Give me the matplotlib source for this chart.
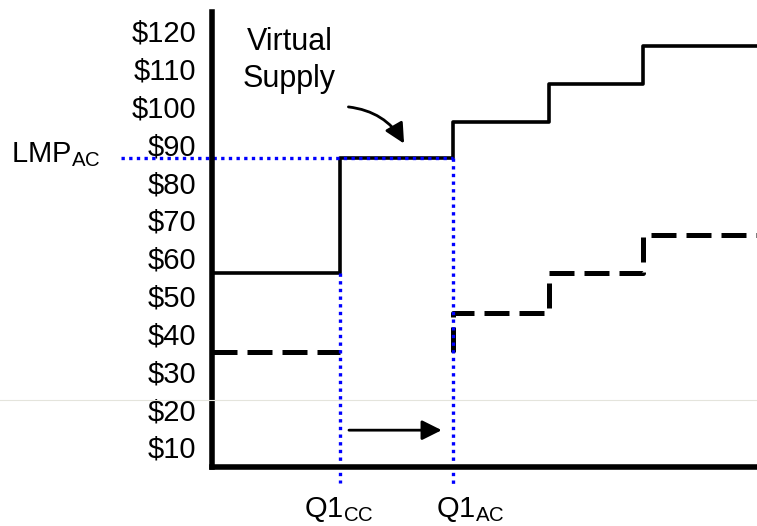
import matplotlib
matplotlib.use("Agg")
import matplotlib.pyplot as plt
from matplotlib.lines import Line2D

plt.rcParams['font.family'] = ['Liberation Sans', 'DejaVu Sans']
plt.rcParams['mathtext.fontset'] = 'custom'
plt.rcParams['mathtext.rm'] = 'Liberation Sans'

# quantity axis (arbitrary units) and price levels
q_steps = [0, 23.5, 44.2, 61.8, 79.1, 100]
supply_price = [56, 86.5, 96, 106, 116, 116]
q_cc_part = [0, 23.5]
cc_price = [35, 35]
q_ac_part = [44.2, 44.2, 61.8, 79.1, 100]
ac_price = [35, 45.5, 56, 66, 66]
q1_cc = 23.5
q1_ac = 44.2
lmp_ac = 86.5
price_ticks = [10, 20, 30, 40, 50, 60, 70, 80, 90, 100, 110, 120]
price_labels = [f"${v}" for v in price_ticks]

fig = plt.figure(figsize=(7.57, 5.26), dpi=100)
ax = fig.add_axes([211.5 / 757, 59 / 526, 545.5 / 757, 455 / 526])

ax.plot(q_steps, supply_price, drawstyle="steps-post", color="black", lw=2.6,
        solid_capstyle="butt")
ax.plot(q_cc_part, cc_price, color="black", lw=3.6, dashes=(5, 2), dash_capstyle="butt")
ax.plot(q_ac_part, ac_price, drawstyle="steps-post", color="black", lw=3.6,
        dashes=(5, 2), dash_capstyle="butt")

# blue dotted guides
dot = dict(color="#0000ff", lw=2.4, linestyle=(0, (1, 1.3)), clip_on=False)
ax.plot([-16.5, q1_ac], [lmp_ac, lmp_ac], **dot)
ax.plot([q1_cc, q1_cc], [56, 0.4], **dot)
ax.plot([q1_ac, q1_ac], [lmp_ac, -0.6], **dot)

ax.set_xlim(0, 100)
ax.set_ylim(4.66, 125)
ax.set_yticks(price_ticks)
ax.set_yticklabels(price_labels)
ax.set_xticks([])
ax.tick_params(axis="y", length=0, pad=11, labelsize=21)
for s in ["top", "right"]:
    ax.spines[s].set_visible(False)
ax.spines["left"].set_linewidth(4)
ax.spines["bottom"].set_linewidth(4)

ax.text(14.3, 112.2, "Virtual\nSupply", ha="center", va="center", fontsize=22,
        linespacing=1.33)
head = "-|>,head_length=1.2,head_width=0.6"
ax.annotate("", xy=(35.3, 90.2), xytext=(25.1, 99.9),
            arrowprops=dict(arrowstyle=head, connectionstyle="arc3,rad=-0.25",
                            color="black", lw=2, shrinkA=0, shrinkB=0))
ax.annotate("", xy=(42.2, 14.4), xytext=(25.2, 14.4),
            arrowprops=dict(arrowstyle=head, color="black", lw=2,
                            shrinkA=0, shrinkB=0))

ax.text(-36.7, 85.3, r"LMP$_{\mathrm{AC}}$", ha="left", va="baseline", fontsize=21,
        clip_on=False)
ax.text(16.9, -8.6, r"Q1$_{\mathrm{CC}}$", ha="left", va="baseline", fontsize=21,
        clip_on=False)
ax.text(41.1, -8.6, r"Q1$_{\mathrm{AC}}$", ha="left", va="baseline", fontsize=21,
        clip_on=False)

# faint seam across the picture
fig.add_artist(Line2D([0, 1], [1 - 400 / 526, 1 - 400 / 526], color="#e4e4dc", lw=0.8))

fig.savefig("out.png", dpi=100)
